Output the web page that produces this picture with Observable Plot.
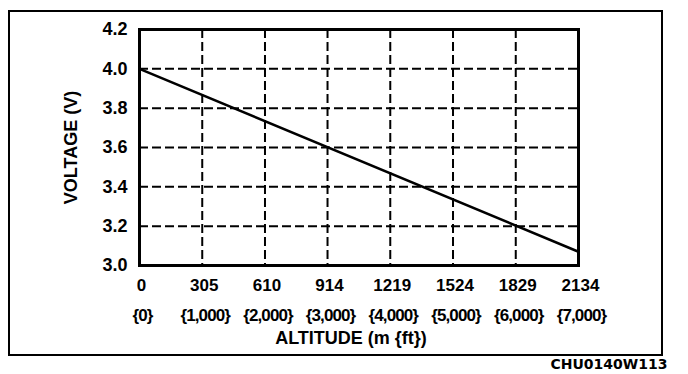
<!DOCTYPE html>
<html>
<head>
<meta charset="utf-8">
<script src="https://cdn.jsdelivr.net/npm/d3@7"></script>
<script src="https://cdn.jsdelivr.net/npm/@observablehq/plot@0.6"></script>
<style>
  html, body { margin: 0; padding: 0; background: #fff; }
  #wrap { position: relative; width: 688px; height: 374px; overflow: hidden; }
  #border { position: absolute; left: 8px; top: 10px; width: 655px; height: 346px; box-sizing: border-box; border: 2px solid #000; pointer-events: none; }
  .ft-labels text { letter-spacing: -0.9px; }
</style>
</head>
<body>
<div id="wrap"><div id="border"></div></div>
<script>
const altitudeM = [0, 305, 610, 914, 1219, 1524, 1829, 2134];
const altitudeFtLabels = ["{0}", "{1,000}", "{2,000}", "{3,000}", "{4,000}", "{5,000}", "{6,000}", "{7,000}"];
const voltageTicks = [3.0, 3.2, 3.4, 3.6, 3.8, 4.0, 4.2];
const lineAltitude = [0, 2134];
const lineVoltage = [4.0, 3.07];
const xTitle = "ALTITUDE (m {ft})";
const yTitle = "VOLTAGE (V)";
const caption = "CHU0140W113";

const lineData = lineAltitude.map((a, i) => ({a, v: lineVoltage[i]}));
const ftData = altitudeM.map((a, i) => ({a, t: altitudeFtLabels[i]}));

const gridStyle = {stroke: "#000", strokeOpacity: 1, strokeWidth: 2, strokeDasharray: "9,4"};

const chart = Plot.plot({
  width: 688,
  height: 374,
  marginLeft: 139,
  marginRight: 110,
  marginTop: 29,
  marginBottom: 109,
  style: {fontFamily: "'Liberation Sans', Arial, sans-serif", color: "#000", background: "transparent"},
  x: {domain: [0, 2134]},
  y: {domain: [3.0, 4.2]},
  marks: [
    Plot.gridX(altitudeM.slice(1, -1), gridStyle),
    Plot.gridY(voltageTicks.slice(1, -1), gridStyle),
    Plot.line(lineData, {x: "a", y: "v", stroke: "#000", strokeWidth: 2.5}),
    Plot.frame({stroke: "#000", strokeWidth: 3}),
    Plot.axisY(voltageTicks, {tickSize: 0, tickPadding: 12, tickFormat: d => d.toFixed(1), fontSize: 18, fontWeight: "bold", label: null}),
    Plot.axisX(altitudeM, {tickSize: 0, tickPadding: 13, tickFormat: d => String(d), fontSize: 17, fontWeight: "bold", label: null, dx: 2}),
    Plot.text(ftData, {x: "a", text: "t", frameAnchor: "bottom", dy: 50, dx: 3, lineAnchor: "middle", fontSize: 17, fontWeight: "bold", className: "ft-labels"}),
    Plot.text([xTitle], {frameAnchor: "bottom", textAnchor: "middle", dy: 73, dx: -8, lineAnchor: "middle", fontSize: 18, fontWeight: "bold"}),
    Plot.text([yTitle], {frameAnchor: "left", textAnchor: "middle", dx: -68, rotate: -90, lineAnchor: "middle", fontSize: 18, fontWeight: "bold"}),
    Plot.text([caption], {frameAnchor: "bottom-right", dx: 89, dy: 99, textAnchor: "end", lineAnchor: "middle", fontSize: 14, fontWeight: "bold", fontFamily: "'DejaVu Sans', sans-serif"})
  ]
});
document.getElementById("wrap").prepend(chart);
</script>
</body>
</html>
